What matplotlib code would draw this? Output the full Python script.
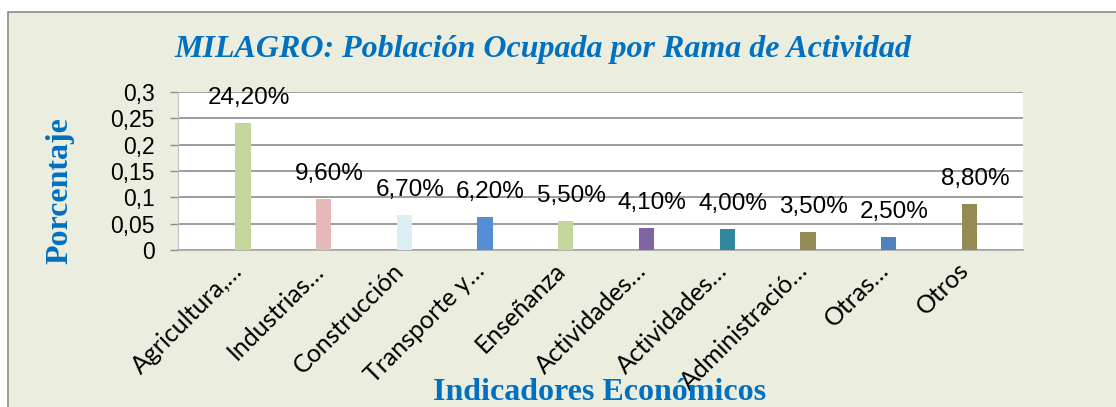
import matplotlib
matplotlib.use("Agg")
import matplotlib.pyplot as plt
from matplotlib.patches import Rectangle
import matplotlib.transforms as mtransforms

categories = ["Agricultura,…", "Industrias…", "Construcción", "Transporte y…", "Enseñanza",
              "Actividades…", "Actividades…", "Administració…", "Otras…", "Otros"]
values = [0.242, 0.096, 0.067, 0.062, 0.055, 0.041, 0.040, 0.035, 0.025, 0.088]
value_labels = ["24,20%", "9,60%", "6,70%", "6,20%", "5,50%", "4,10%", "4,00%", "3,50%", "2,50%", "8,80%"]
bar_colors = ["#C3D69B", "#E6B9B8", "#DBEEF4", "#558ED5", "#C3D69B",
              "#8064A2", "#31859C", "#948A54", "#4F81BD", "#948A54"]
yticks = [0, 0.05, 0.1, 0.15, 0.2, 0.25, 0.3]
ytick_labels = ["0", "0,05", "0,1", "0,15", "0,2", "0,25", "0,3"]

W, H = 1116, 407
fig = plt.figure(figsize=(W / 100, H / 100), dpi=100, facecolor="white")

# outer chart frame
fig.patches.append(Rectangle((8 / W, -0.1), 1.2, (H - 12) / H + 0.1, transform=fig.transFigure,
                             facecolor="#EBEEDE", edgecolor="#8C8C8C", linewidth=1.2, zorder=-10))

ax = fig.add_axes([178 / W, (H - 250) / H, 845 / W, 158 / H])
ax.set_zorder(1)
ax.set_facecolor("white")
x = list(range(len(categories)))
ax.bar(x, values, width=0.19, color=bar_colors, zorder=3)
ax.set_xlim(-0.805, 9.665)
ax.set_ylim(0, 0.3)

ax.set_yticks(yticks)
ax.set_yticklabels(ytick_labels, fontsize=16.5, family="Liberation Sans")
ax.tick_params(axis="y", length=6, width=1, color="#8C8C8C", pad=11)
ax.grid(axis="y", color="#8C8C8C", linewidth=1.2, zorder=1)
ax.set_axisbelow(True)

for s in ["top", "right"]:
    ax.spines[s].set_visible(False)
ax.spines["left"].set_color("#BFBFBF")
ax.spines["bottom"].set_color("#A6A6A6")
ax.spines["bottom"].set_linewidth(1.2)

ax.set_xticks(x)
ax.set_xticklabels(categories, rotation=45, ha="right", rotation_mode="anchor",
                   fontsize=18, family="Lato", va="center")
ax.tick_params(axis="x", length=0, pad=12)
offset = mtransforms.ScaledTranslation(-4 / 100, 0, fig.dpi_scale_trans)
for lab in ax.get_xticklabels():
    lab.set_transform(lab.get_transform() + offset)

for xi, v, t in zip(x, values, value_labels):
    ax.annotate(t, (xi, v), xytext=(4, 18), textcoords="offset points",
                ha="center", va="center", fontsize=17.5, family="Liberation Sans", zorder=4,
                annotation_clip=False)

fig.text(543 / W, 1 - 49 / H, "MILAGRO: Población Ocupada por Rama de Actividad",
         ha="center", va="center", fontsize=23, family="Liberation Serif",
         style="italic", weight="bold", color="#0070C0")
fig.text(60 / W, 1 - 191 / H, "Porcentaje", rotation=90, ha="center", va="center",
         fontsize=23, family="Liberation Serif", weight="bold", color="#0070C0")
fig.text(600 / W, 1 - 392 / H, "Indicadores Económicos", ha="center", va="center",
         fontsize=23, family="Liberation Serif", weight="bold", color="#0070C0", zorder=5)

fig.savefig("out.png", dpi=100, facecolor="white")
